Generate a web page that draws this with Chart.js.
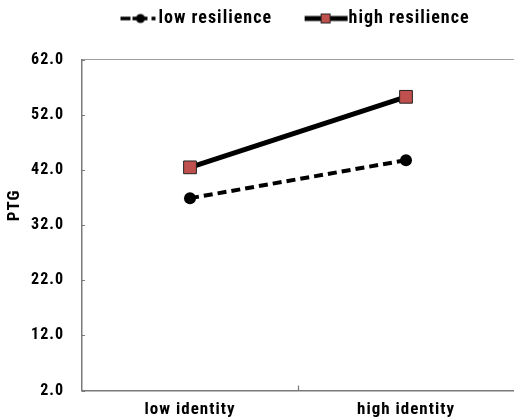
<!DOCTYPE html>
<html>
<head>
<meta charset="utf-8">
<script src="https://cdn.jsdelivr.net/npm/chart.js@4/dist/chart.umd.min.js"></script>
<style>
  html, body { margin:0; padding:0; background:#fff; }
  #wrap { width:514px; height:420px; position:relative; }
</style>
</head>
<body>
<div id="wrap"><canvas id="chart"></canvas></div>
<script>
// data
const CATEGORIES = ["low identity", "high identity"];
const SERIES_NAMES = ["low resilience", "high resilience"];
const LOW_RESILIENCE = [36.9, 43.8];
const HIGH_RESILIENCE = [42.5, 55.3];
const Y_TICKS = [2, 12, 22, 32, 42, 52, 62];
const Y_TITLE = "PTG";

const FONT = "'Roboto Condensed', 'Liberation Sans', Arial, sans-serif";
const LEG_FONT = 18;
const LEG_BOX = 63;

// legend symbol: line + marker, drawn into a small canvas used as pointStyle.
// the canvas is centred on the legend box and its right edge touches the text.
function legendSymbol(kind) {
  const c = document.createElement('canvas');
  const W = LEG_BOX + LEG_FONT;
  c.width = W; c.height = 16;
  const g = c.getContext('2d');
  const cy = 8;
  g.fillStyle = '#000';
  if (kind === 'dash') {
    g.fillRect(W - 38, cy - 1.8, 10, 3.6);
    g.fillRect(W - 26, cy - 1.8, 15, 3.6);
    g.beginPath(); g.arc(W - 18, cy, 4.5, 0, Math.PI * 2); g.fill();
    g.fillRect(W - 7, cy - 1.8, 4, 3.6);
  } else {
    g.fillRect(W - 44, cy - 2.5, 43, 5);
    g.fillStyle = '#c0504d';
    g.strokeStyle = '#222';
    g.lineWidth = 1;
    g.fillRect(W - 27.5, cy - 4.5, 9, 9);
    g.strokeRect(W - 27.5, cy - 4.5, 9, 9);
  }
  return c;
}

const symbols = [legendSymbol('dash'), legendSymbol('solid')];

// letter spacing, inner tick marks and rotated axis title
const extras = {
  id: 'extras',
  beforeLayout(chart) { chart.ctx.letterSpacing = '1px'; },
  beforeDraw(chart) { chart.ctx.letterSpacing = '1px'; },
  afterDraw(chart) {
    const ctx = chart.ctx, a = chart.chartArea;
    const x = chart.scales.x, y = chart.scales.y;
    ctx.save();
    ctx.strokeStyle = '#7a7a7a';
    ctx.lineWidth = 1.2;
    ctx.beginPath();
    y.ticks.forEach(t => {
      const py = Math.round(y.getPixelForValue(t.value)) + 0.5;
      ctx.moveTo(a.left, py); ctx.lineTo(a.left + 3, py);
    });
    const mid = Math.round((x.getPixelForTick(0) + x.getPixelForTick(1)) / 2) + 0.5;
    ctx.moveTo(mid, a.bottom); ctx.lineTo(mid, a.bottom - 5);
    ctx.stroke();
    ctx.translate(15, a.top + (a.bottom - a.top) * 0.44);
    ctx.rotate(-Math.PI / 2);
    ctx.font = "bold 17px " + FONT;
    ctx.fillStyle = '#000';
    ctx.textAlign = 'center';
    ctx.textBaseline = 'middle';
    ctx.fillText(Y_TITLE, 0, 0);
    ctx.restore();
  }
};

const noSidePadding = s => { s.paddingLeft = 0; s.paddingRight = 0; };

new Chart(document.getElementById('chart'), {
  type: 'line',
  data: {
    labels: CATEGORIES,
    datasets: [
      {
        label: SERIES_NAMES[0],
        data: LOW_RESILIENCE,
        borderColor: '#000',
        backgroundColor: '#000',
        borderWidth: 4,
        borderDash: [9, 5],
        pointStyle: 'circle',
        pointRadius: 6,
        pointBackgroundColor: '#000',
        pointBorderColor: '#000',
        pointBorderWidth: 0
      },
      {
        label: SERIES_NAMES[1],
        data: HIGH_RESILIENCE,
        borderColor: '#000',
        backgroundColor: '#c0504d',
        borderWidth: 5,
        pointStyle: 'rect',
        pointRadius: 9,
        pointBackgroundColor: '#c0504d',
        pointBorderColor: '#222',
        pointBorderWidth: 1
      }
    ]
  },
  options: {
    responsive: true,
    maintainAspectRatio: false,
    animation: false,
    layout: { autoPadding: false, padding: { top: 5, left: 0, right: -2, bottom: 0 } },
    plugins: {
      tooltip: { enabled: false },
      legend: {
        position: 'top',
        align: 'start',
        fullSize: false,
        labels: {
          usePointStyle: true,
          pointStyleWidth: LEG_BOX,
          padding: 4.5,
          color: '#000',
          font: { family: FONT, size: LEG_FONT, weight: 'bold' },
          generateLabels(chart) {
            const items = Chart.defaults.plugins.legend.labels.generateLabels(chart);
            return items.map((it, i) => Object.assign(it, { pointStyle: symbols[i], rotation: 0 }));
          }
        }
      }
    },
    scales: {
      x: {
        type: 'category',
        offset: true,
        grid: { display: false, drawTicks: false },
        border: { display: true, color: '#7a7a7a', width: 1.5 },
        ticks: { color: '#000', padding: 9, font: { family: FONT, size: 17, weight: 'bold' } },
        afterFit(s) { s.height = 29.5; noSidePadding(s); }
      },
      xTop: {
        type: 'category',
        position: 'top',
        labels: CATEGORIES,
        offset: true,
        grid: { display: false, drawTicks: false },
        border: { display: true, color: '#a0a0a0', width: 1 },
        ticks: { display: false },
        afterFit(s) { s.height = 22.4; noSidePadding(s); }
      },
      y: {
        min: Y_TICKS[0],
        max: Y_TICKS[Y_TICKS.length - 1],
        afterBuildTicks(s) { s.ticks = Y_TICKS.map(v => ({ value: v })); },
        grid: { display: false, drawTicks: false },
        border: { display: true, color: '#7a7a7a', width: 1.5 },
        ticks: {
          color: '#000',
          padding: 18,
          font: { family: FONT, size: 16, weight: 'bold' },
          callback: v => Number(v).toFixed(1)
        },
        afterFit(s) { s.width = 82; }
      }
    }
  },
  plugins: [extras]
});
</script>
</body>
</html>
